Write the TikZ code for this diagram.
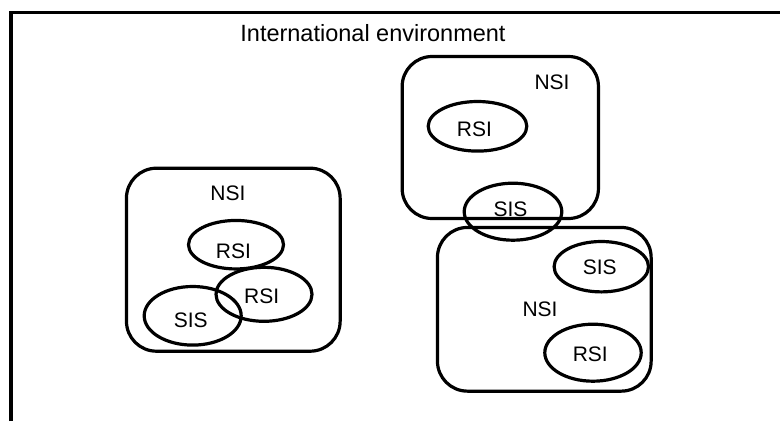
\documentclass[tikz,border=0pt]{standalone}
\usepackage{fontspec}
\setmainfont{Liberation Sans}
\usetikzlibrary{shapes.geometric}
\tikzset{
  shapeline/.style={draw=black, line width=3.2pt},
  nsibox/.style={shapeline, rectangle, rounded corners=30pt, inner sep=0pt},
  oval/.style={shapeline, ellipse, inner sep=0pt},
  lbl/.style={inner sep=0pt, font=\fontsize{21}{25}\selectfont},
  ttl/.style={inner sep=0pt, font=\fontsize{23.5}{28}\selectfont}
}
\begin{document}
\begin{tikzpicture}[x=1pt,y=-1pt]
\useasboundingbox (0,0) rectangle (780,421);
% outer environment frame (only top and left sides visible)
\coordinate (fbl) at (10.8,421);
\coordinate (ftl) at (10.8,12.3);
\coordinate (ftr) at (780,12.3);
\draw[line width=3.4pt] (fbl) -- (ftl) -- (ftr);
\node[ttl] (title) at (373,33) {International environment};

% left NSI
\node[nsibox, minimum width=213.7pt, minimum height=183pt] (nsiL) at (233.3,259.7) {};
\node[lbl] (nsiLt) at (228,193) {NSI};
\node[oval, minimum width=95pt, minimum height=48.5pt] (rsiL1) at (236,244.7) {};
\node[lbl] (rsiL1t) at (233.5,251.5) {RSI};
\node[oval, minimum width=96pt, minimum height=54pt] (rsiL2) at (264,294.3) {};
\node[lbl] (rsiL2t) at (261.7,296) {RSI};
\node[oval, minimum width=97pt, minimum height=58.6pt] (sisL) at (192.7,315.8) {};
\node[lbl] (sisLt) at (190.7,320) {SIS};

% top right NSI
\node[nsibox, minimum width=196.3pt, minimum height=162pt] (nsiT) at (500.3,137.5) {};
\node[lbl] (nsiTt) at (552,82.5) {NSI};
\node[oval, minimum width=98.6pt, minimum height=49.6pt] (rsiT) at (477.5,126.3) {};
\node[lbl] (rsiTt) at (474.5,129) {RSI};
\node[oval, minimum width=97.6pt, minimum height=57pt] (sisT) at (513,211.7) {};
\node[lbl] (sisTt) at (510.5,209) {SIS};

% bottom right NSI
\node[nsibox, minimum width=213.7pt, minimum height=163.7pt] (nsiB) at (544.3,309.3) {};
\node[lbl] (nsiBt) at (540,309.5) {NSI};
\node[oval, minimum width=94.4pt, minimum height=50.4pt] (sisB) at (601.3,266.7) {};
\node[lbl] (sisBt) at (599.7,267) {SIS};
\node[oval, minimum width=96.4pt, minimum height=57pt] (rsiB) at (593,352.7) {};
\node[lbl] (rsiBt) at (590.3,354.7) {RSI};
\end{tikzpicture}
\end{document}
